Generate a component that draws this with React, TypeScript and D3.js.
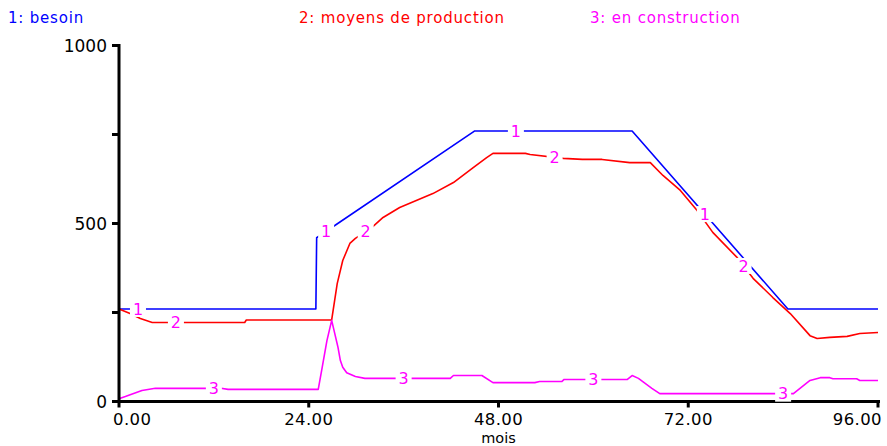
import React from "react";
import * as d3 from "d3";

const W = 887;
const H = 446;

// 1: besoin
const besoinMonths = [0, 24.9, 25.0, 45.0, 64.9, 84.6, 96];
const besoinValues = [260, 260, 460, 760, 760, 260, 260];

// 2: moyens de production
const moyensMonths = [
  0, 1.4, 2.7, 4.2, 15.9, 16.1, 26.9, 27.6, 28.3, 29.2, 29.9, 32.0, 33.4, 35.5,
  39.7, 42.3, 44.8, 46.5, 47.3, 51.4, 52.0, 56.2, 58.6, 61.1, 64.6, 67.2, 68.8,
  71.0, 73.1, 75.1, 78.2, 80.2, 82.7, 84.9, 87.4, 88.3, 89.9, 92.1, 93.7, 96,
];
const moyensValues = [
  260, 247, 233, 222, 222, 229, 229, 331, 396, 444, 458, 489, 517, 545,
  584, 615, 657, 685, 697, 697, 694, 683, 680, 680, 671, 671, 635,
  593, 537, 475, 404, 346, 292, 247, 185, 177, 180, 183, 191, 194,
];

// 3: en construction
const constructionMonths = [
  0, 0.8, 2.9, 4.6, 12.9, 13.8, 25.2, 25.7, 26.3, 26.9, 27.7, 28.0, 28.3, 28.8,
  29.9, 31.1, 41.9, 42.3, 45.9, 47.3, 52.6, 53.2, 56.0, 56.3, 64.3, 64.9, 65.7,
  67.4, 68.4, 85.3, 87.4, 88.7, 89.9, 90.3, 93.3, 93.7, 96,
];
const constructionValues = [
  8, 14, 31, 37, 37, 34, 34, 96, 171, 228, 152, 115, 96, 81,
  70, 65, 65, 73, 73, 53, 53, 56, 56, 62, 62, 73, 65,
  37, 22, 22, 59, 67, 67, 64, 64, 59, 59,
];

const seriesNames = ["1: besoin", "2: moyens de production", "3: en construction"];
const seriesColors = ["#0000ff", "#ff0000", "#ff00ff"];
const seriesTags = ["1", "2", "3"];
const tagMonths = [
  [2.4, 26.2, 50.2, 74.1],
  [7.2, 31.2, 55.1, 79.0],
  [12.0, 36.0, 60.0, 84.0],
];

const xTicks = [0, 24, 48, 72, 96];
const xTickLabels = ["0.00", "24.00", "48.00", "72.00", "96.00"];
const yTicks = [0, 250, 500, 750, 1000];
const yTickLabels = ["0", "", "500", "", "1000"];
const xTitle = "mois";

const FONT = "'DejaVu Sans', Verdana, sans-serif";

type Pt = { m: number; v: number };

function valueAt(pts: Pt[], m: number): number {
  for (let i = 1; i < pts.length; i++) {
    const a = pts[i - 1];
    const b = pts[i];
    if (m >= a.m && m <= b.m) {
      if (b.m === a.m) return b.v;
      return a.v + ((m - a.m) / (b.m - a.m)) * (b.v - a.v);
    }
  }
  return pts[pts.length - 1].v;
}

export default function App() {
  const x = d3.scaleLinear().domain([0, 96]).range([119, 878]);
  const y = d3.scaleLinear().domain([0, 1000]).range([401.5, 45.5]);

  const series: Pt[][] = [
    besoinMonths.map((m, i) => ({ m, v: besoinValues[i] })),
    moyensMonths.map((m, i) => ({ m, v: moyensValues[i] })),
    constructionMonths.map((m, i) => ({ m, v: constructionValues[i] })),
  ];

  const line = d3
    .line<Pt>()
    .x((d) => x(d.m))
    .y((d) => y(d.v));

  const axisX0 = x(0);
  const axisY0 = y(0);

  return (
    <svg
      width={W}
      height={H}
      style={{ position: "absolute", left: 0, top: 0, background: "#fff" }}
      fontFamily={FONT}
    >
      <rect x={0} y={0} width={W} height={H} fill="#fff" />

      {/* legend */}
      {seriesNames.map((name, i) => (
        <text
          key={name}
          x={[8, 299, 590][i]}
          y={22.5}
          fontSize={15}
          letterSpacing={0.8}
          fill={seriesColors[i]}
        >
          {name}
        </text>
      ))}

      {/* series lines */}
      {series.map((pts, i) => (
        <path
          key={i}
          d={line(pts) ?? ""}
          fill="none"
          stroke={seriesColors[i]}
          strokeWidth={1.6}
          strokeLinejoin="round"
        />
      ))}

      {/* axes */}
      <line x1={axisX0} x2={axisX0} y1={y(1000) - 1.5} y2={axisY0 + 1.5} stroke="#000" strokeWidth={3} />
      <line x1={axisX0} x2={x(96) + 2} y1={axisY0} y2={axisY0} stroke="#000" strokeWidth={3} />

      {yTicks.map((t, i) => (
        <g key={`y${t}`}>
          <line x1={axisX0 - 7} x2={axisX0} y1={y(t)} y2={y(t)} stroke="#000" strokeWidth={3} />
          {yTickLabels[i] && (
            <text
              x={107}
              y={y(t)}
              dy="0.36em"
              textAnchor="end"
              fontSize={17}
              fill="#000"
            >
              {yTickLabels[i]}
            </text>
          )}
        </g>
      ))}

      {xTicks.map((t, i) => {
        const last = i === xTicks.length - 1;
        const first = i === 0;
        return (
          <g key={`x${t}`}>
            <line x1={x(t)} x2={x(t)} y1={axisY0} y2={axisY0 + 6} stroke="#000" strokeWidth={3} />
            <text
              x={first ? x(t) - 6 : last ? x(t) + 4 : x(t)}
              y={425}
              textAnchor={first ? "start" : last ? "end" : "middle"}
              fontSize={16.5}
              letterSpacing={0.4}
              fill="#000"
            >
              {xTickLabels[i]}
            </text>
          </g>
        );
      })}
      <text x={x(48)} y={443} textAnchor="middle" fontSize={14.5} fill="#000">
        {xTitle}
      </text>

      {/* series tags on the curves */}
      {series.map((pts, i) =>
        tagMonths[i].map((m) => {
          const cx = x(m);
          const cy = y(valueAt(pts, m));
          return (
            <g key={`tag${i}-${m}`}>
              <rect x={cx - 8} y={cy - 8} width={16} height={16} fill="#fff" />
              <text
                x={cx}
                y={cy}
                dy="0.36em"
                textAnchor="middle"
                fontSize={16}
                fill="#ff00ff"
              >
                {seriesTags[i]}
              </text>
            </g>
          );
        })
      )}
    </svg>
  );
}
